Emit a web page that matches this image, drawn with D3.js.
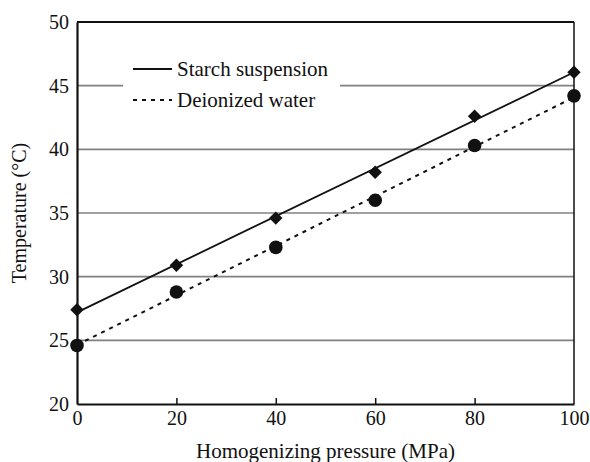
<!DOCTYPE html>
<html>
<head>
<meta charset="utf-8">
<script src="https://cdn.jsdelivr.net/npm/d3@7"></script>
<style>
  body { margin: 0; background: #fff; }
  text { font-family: "Liberation Serif", "Times New Roman", serif; fill: #111; }
</style>
</head>
<body>
<div id="chart"></div>
<script>
// values
const pressure = [0, 20, 40, 60, 80, 100];
const starch = [27.4, 30.9, 34.6, 38.2, 42.6, 46.05];
const water = [24.6, 28.8, 32.3, 36.0, 40.3, 44.2];
const yTicks = [20, 25, 30, 35, 40, 45, 50];
const xTicks = [0, 20, 40, 60, 80, 100];
const seriesNames = ["Starch suspension", "Deionized water"];

const W = 590, H = 462;
const margin = {top: 22, right: 16, bottom: 58, left: 77};

const svg = d3.select("#chart").append("svg")
    .attr("width", W)
    .attr("height", H);

const x = d3.scaleLinear().domain([0, 100]).range([margin.left, W - margin.right]);
const y = d3.scaleLinear().domain([20, 50]).range([H - margin.bottom, margin.top]);

// least squares fit, drawn across the x domain
let fit = (ys) => {
    let mx = d3.mean(pressure), my = d3.mean(ys);
    let num = d3.sum(pressure, (p, i) => (p - mx) * (ys[i] - my));
    let den = d3.sum(pressure, (p) => (p - mx) * (p - mx));
    let b = num / den;
    let a = my - b * mx;
    return x.domain().map(p => [p, a + b * p]);
};

// gridlines
svg.append("g")
    .selectAll("line")
    .data(yTicks.slice(1, -1))
    .enter()
    .append("line")
    .attr("x1", x(0))
    .attr("x2", x(100))
    .attr("y1", d => y(d))
    .attr("y2", d => y(d))
    .attr("stroke", "#808080")
    .attr("stroke-width", 1.6);

// frame top / right
svg.append("line")
    .attr("x1", x(0)).attr("x2", x(100))
    .attr("y1", y(50)).attr("y2", y(50))
    .attr("stroke", "#111").attr("stroke-width", 2);
svg.append("line")
    .attr("x1", x(100)).attr("x2", x(100))
    .attr("y1", y(50)).attr("y2", y(20))
    .attr("stroke", "#111").attr("stroke-width", 1.5);

// axes
const xAxis = svg.append("g")
    .attr("transform", `translate(0,${y(20)})`)
    .call(d3.axisBottom(x).tickValues(xTicks).tickSizeInner(-6).tickSizeOuter(0).tickPadding(7));
const yAxis = svg.append("g")
    .attr("transform", `translate(${x(0)},0)`)
    .call(d3.axisLeft(y).tickValues(yTicks).tickSize(0).tickPadding(8));

[xAxis, yAxis].forEach(g => {
    g.select(".domain").attr("stroke", "#111").attr("stroke-width", 2.2);
    g.selectAll(".tick line").attr("stroke", "#111").attr("stroke-width", 1.5);
    g.selectAll(".tick text")
        .style("font-family", "Liberation Serif")
        .style("font-size", "20px")
        .attr("fill", "#111");
});
xAxis.selectAll(".tick").filter(d => d === 0 || d === 100).select("line").remove();

// axis titles
svg.append("text")
    .attr("x", (x(0) + x(100)) / 2)
    .attr("y", 458)
    .attr("text-anchor", "middle")
    .style("font-size", "21px")
    .text("Homogenizing pressure (MPa)");
svg.append("text")
    .attr("transform", `translate(26,${(y(20) + y(50)) / 2}) rotate(-90)`)
    .attr("text-anchor", "middle")
    .style("font-size", "20px")
    .text("Temperature (°C)");

// legend background hides the 45 gridline
const legend = svg.append("g");
legend.append("rect")
    .attr("x", 123).attr("y", 52)
    .attr("width", 217).attr("height", 62)
    .attr("fill", "#fff");

const line = d3.line().x(d => x(d[0])).y(d => y(d[1]));
const styles = [
    {dash: null, width: 1.8},
    {dash: "4,5", width: 2}
];

// fit lines
[starch, water].forEach((s, i) => {
    svg.append("path")
        .attr("d", line(fit(s)))
        .attr("fill", "none")
        .attr("stroke", "#111")
        .attr("stroke-width", styles[i].width)
        .attr("stroke-dasharray", styles[i].dash);
});

// markers
svg.append("g")
    .selectAll("path")
    .data(pressure)
    .enter()
    .append("path")
    .attr("d", d3.symbol().type(d3.symbolSquare).size(90))
    .attr("transform", (d, i) => `translate(${x(d)},${y(starch[i])}) rotate(45)`)
    .attr("fill", "#111");
svg.append("g")
    .selectAll("circle")
    .data(pressure)
    .enter()
    .append("circle")
    .attr("cx", d => x(d))
    .attr("cy", (d, i) => y(water[i]))
    .attr("r", 6.8)
    .attr("fill", "#111");

// legend entries
seriesNames.forEach((name, i) => {
    let ly = 69 + i * 31;
    legend.append("line")
        .attr("x1", 133).attr("x2", 172)
        .attr("y1", ly).attr("y2", ly)
        .attr("stroke", "#111")
        .attr("stroke-width", styles[i].width)
        .attr("stroke-dasharray", styles[i].dash);
    legend.append("text")
        .attr("x", 177)
        .attr("y", ly + 7)
        .style("font-size", "21px")
        .text(name);
});
</script>
</body>
</html>
